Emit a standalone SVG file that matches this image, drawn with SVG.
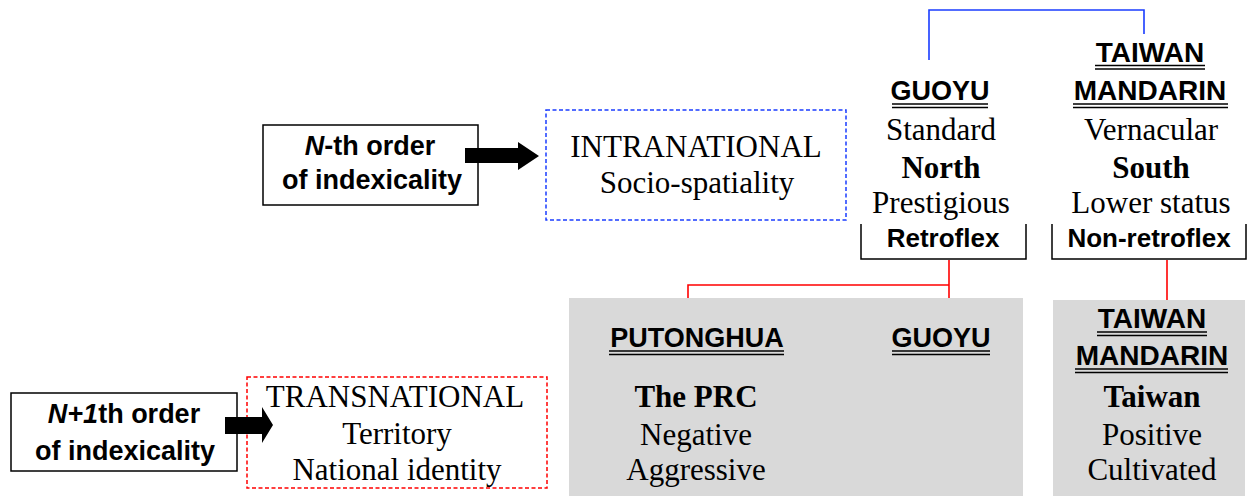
<svg xmlns="http://www.w3.org/2000/svg" width="1250" height="496" viewBox="0 0 1250 496">
<style>
.sans{font-family:"Liberation Sans",Arial,sans-serif;font-weight:bold;fill:#000;text-anchor:middle}
.serif{font-family:"Liberation Serif","Times New Roman",serif;font-size:31px;fill:#000;text-anchor:middle}
.b{font-weight:bold}
.ul{stroke:#000;stroke-width:1.4}
.box{fill:#fff;stroke:#000;stroke-width:1.5}
.brk{fill:none;stroke:#000;stroke-width:1.5}
.gray{fill:#d9d9d9}
.blue{stroke:#1a3cff;stroke-width:1.6;fill:none}
.red{stroke:#ff0000;stroke-width:1.6;fill:none}
.bdash{fill:#fff;stroke:#1a3cff;stroke-width:1.5;stroke-dasharray:4 2.5}
.rdash{fill:#fff;stroke:#ff0000;stroke-width:1.5;stroke-dasharray:4 2.5}
</style>
<rect width="1250" height="496" fill="#fff"/>

<g id="connectors">
<polyline class="blue" points="929,60 929,10 1144,10 1144,34"/>
<polyline class="red" points="949,260 949,298"/>
<polyline class="red" points="688,298 688,285 949,285"/>
<polyline class="red" points="1167,260 1167,300"/>
</g>

<g id="gray-prc">
<rect class="gray" x="569" y="298" width="454" height="198"/>
<text class="sans" x="697" y="347" font-size="27">PUTONGHUA</text>
<line class="ul" x1="609" y1="351" x2="784" y2="351"/>
<line class="ul" x1="609" y1="354.5" x2="784" y2="354.5"/>
<text class="sans" x="941" y="347" font-size="27">GUOYU</text>
<line class="ul" x1="892" y1="351" x2="990" y2="351"/>
<line class="ul" x1="892" y1="354.5" x2="990" y2="354.5"/>
<text class="serif b" x="696" y="407">The PRC</text>
<text class="serif" x="696" y="445">Negative</text>
<text class="serif" x="696" y="480">Aggressive</text>
</g>

<g id="gray-taiwan">
<rect class="gray" x="1053" y="300" width="192" height="196"/>
<text class="sans" x="1152" y="328" font-size="28">TAIWAN</text>
<line class="ul" x1="1097" y1="332" x2="1207" y2="332"/>
<line class="ul" x1="1097" y1="335.5" x2="1207" y2="335.5"/>
<text class="sans" x="1152" y="365" font-size="28">MANDARIN</text>
<line class="ul" x1="1075" y1="369" x2="1228" y2="369"/>
<line class="ul" x1="1075" y1="372.5" x2="1228" y2="372.5"/>
<text class="serif b" x="1152" y="407">Taiwan</text>
<text class="serif" x="1152" y="445">Positive</text>
<text class="serif" x="1152" y="480">Cultivated</text>
</g>

<g id="guoyu-top">
<text class="sans" x="940" y="100" font-size="27">GUOYU</text>
<line class="ul" x1="892" y1="104" x2="988" y2="104"/>
<line class="ul" x1="892" y1="107.5" x2="988" y2="107.5"/>
<text class="serif" x="941" y="140">Standard</text>
<text class="serif b" x="941" y="178">North</text>
<text class="serif" x="941" y="213">Prestigious</text>
<polyline class="brk" points="861,224 861,259 1026,259 1026,224"/>
<text class="sans" x="943" y="247" font-size="26">Retroflex</text>
</g>

<g id="taiwan-top">
<text class="sans" x="1150" y="62" font-size="28">TAIWAN</text>
<line class="ul" x1="1095" y1="65.5" x2="1205" y2="65.5"/>
<line class="ul" x1="1095" y1="69" x2="1205" y2="69"/>
<text class="sans" x="1150" y="100" font-size="28">MANDARIN</text>
<line class="ul" x1="1073" y1="104" x2="1228" y2="104"/>
<line class="ul" x1="1073" y1="107.5" x2="1228" y2="107.5"/>
<text class="serif" x="1151" y="140">Vernacular</text>
<text class="serif b" x="1151" y="178">South</text>
<text class="serif" x="1151" y="213">Lower status</text>
<polyline class="brk" points="1052,224 1052,259 1246,259 1246,224"/>
<text class="sans" x="1149" y="247" font-size="26">Non-retroflex</text>
</g>

<g id="nth-order">
<rect class="box" x="263" y="125" width="215" height="80"/>
<text class="sans" x="370" y="155" font-size="27"><tspan font-style="italic">N</tspan>-th order</text>
<text class="sans" x="372" y="189" font-size="27">of indexicality</text>
</g>

<g id="intranational">
<rect class="bdash" x="546" y="110" width="300" height="110"/>
<text class="serif" x="696" y="157">INTRANATIONAL</text>
<text class="serif" x="697" y="193">Socio-spatiality</text>
</g>

<g id="n1-order">
<rect class="box" x="11" y="393" width="226" height="78"/>
<text class="sans" x="124" y="423" font-size="27"><tspan font-style="italic">N+1</tspan>th order</text>
<text class="sans" x="125" y="460" font-size="27">of indexicality</text>
</g>

<g id="transnational">
<rect class="rdash" x="247" y="377" width="300" height="111"/>
<text class="serif" x="395" y="407" font-size="30">TRANSNATIONAL</text>
<text class="serif" x="397" y="444">Territory</text>
<text class="serif" x="397" y="480">National identity</text>
</g>

<g id="arrows">
<polygon fill="#000" points="465,148 518,148 518,142 539,156 518,170 518,163 465,163"/>
<polygon fill="#000" points="225,417 262,417 262,407 273,425 262,443 262,434 225,434"/>
</g>
</svg>
